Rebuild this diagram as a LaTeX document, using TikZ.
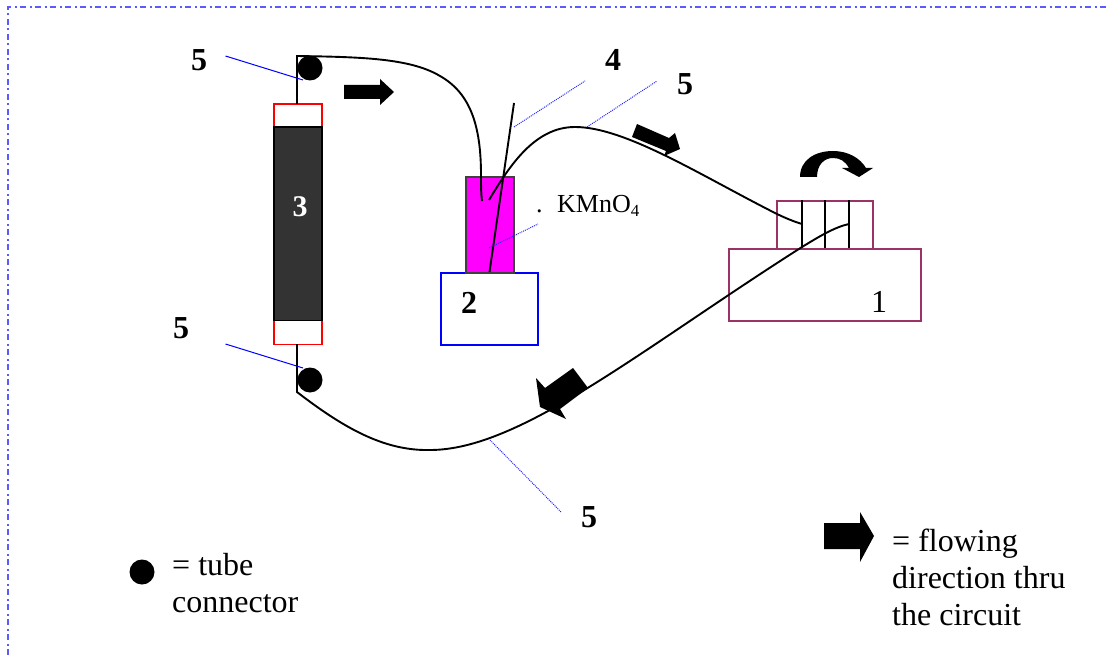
\documentclass[tikz,border=0pt]{standalone}
\usepackage{fontspec}
\setmainfont{Liberation Serif}
\definecolor{pumpc}{HTML}{993366}
\definecolor{framec}{HTML}{5A5AFF}
\definecolor{darkc}{HTML}{333333}
\definecolor{vesselc}{HTML}{FF00FF}
\tikzset{
  lbl/.style={inner sep=0pt,anchor=base west,font=\fontsize{32}{32}\selectfont},
  blbl/.style={lbl,font=\fontsize{32}{32}\selectfont\bfseries},
  box/.style={draw,inner sep=0pt,line width=1.8pt,anchor=north west},
  tube/.style={line width=1.9pt,black,line join=miter},
  solidlead/.style={blue,line width=1pt},
  dotlead/.style={blue!85!white,line width=1pt,dash pattern=on 1pt off 1pt},
  conn/.style={circle,fill=black,inner sep=0pt,minimum size=25pt},
  flow/.style={fill=black,draw=none}
}
\begin{document}
\begin{tikzpicture}[x=1pt,y=-1pt]
\useasboundingbox (0,0) rectangle (1107,655);
% outer frame
\coordinate (f1) at (8,655);
\coordinate (f2) at (8,7);
\coordinate (f3) at (1107,7);
\draw[framec,line width=1.1pt,dash pattern=on 6pt off 3.5pt on 2pt off 3.5pt] (f1) -- (f2) -- (f3);

% column 3
\node[box,draw=red,minimum width=48.5pt,minimum height=240pt] (col) at (272.8,103.5) {};
\node[box,draw=black,fill=darkc,minimum width=48.5pt,minimum height=193pt] (pack) at (272.8,126.5) {};
\node[blbl,font=\fontsize{30}{30}\selectfont\bfseries,text=white] (n3) at (292.5,216) {3};

% vessel 2
\node[box,draw=blue,fill=white,minimum width=97pt,minimum height=72pt] (stand) at (440.3,271.7) {};
\node[box,draw=black!75,fill=vesselc,minimum width=48.5pt,minimum height=95.5pt] (vessel) at (464.8,176.2) {};
\node[blbl] (n2) at (461,313) {2};

% pump 1
\node[box,draw=pumpc,minimum width=192pt,minimum height=72pt] (pump) at (728.3,247.7) {};
\node[box,draw=pumpc,minimum width=96pt,minimum height=48pt] (head) at (776.3,199.7) {};
\coordinate (v1t) at (802,200); \coordinate (v1b) at (802,248);
\coordinate (v2t) at (825,200); \coordinate (v2b) at (825,248);
\coordinate (v3t) at (849,200); \coordinate (v3b) at (849,248);
\draw[tube] (v1t) -- (v1b);
\draw[tube] (v2t) -- (v2b);
\draw[tube] (v3t) -- (v3b);
\node[lbl] (n1) at (871,312) {1};

% connectors (dots)
\node[conn] (ctop) at (310,68) {};
\node[conn] (cbot) at (310,380) {};

% tubes
\coordinate (coltop) at (297,104);
\coordinate (colbot) at (297,344);
\coordinate (bendtop) at (297,56);
\coordinate (bendbot) at (297,392);
\coordinate (inlet) at (482,201);
\coordinate (ventb) at (489.5,272);
\coordinate (ventt) at (514,103);
\coordinate (outlet) at (489,200);
\coordinate (pumpin) at (802,224);
\coordinate (pumpout) at (849,224);
\draw[tube] (coltop) -- (bendtop) .. controls (360,57) and (410,58) .. (440,76) .. controls (470,93) and (481,125) .. (481,175) .. controls (481,185) and (481,193) .. (inlet);
\draw[tube] (ventb) -- (ventt);
\draw[tube] (outlet) .. controls (510,165) and (535,127) .. (575,127) .. controls (625,127) and (700,175) .. (775,213) .. controls (785,218) and (795,222) .. (pumpin);
\draw[tube] (colbot) -- (bendbot) .. controls (345,429) and (385,451) .. (430,450) .. controls (520,450) and (640,350) .. (802,247) .. controls (820,236) and (835,227) .. (pumpout);

% leader lines
\coordinate (l1a) at (225.5,56);  \coordinate (l1b) at (303,80);
\coordinate (l2a) at (225.5,344); \coordinate (l2b) at (303,368);
\draw[solidlead] (l1a) -- (l1b);
\draw[solidlead] (l2a) -- (l2b);
\coordinate (l3a) at (514,127);   \coordinate (l3b) at (585,81);
\coordinate (l4a) at (587,127);   \coordinate (l4b) at (657,81);
\coordinate (l5a) at (489,248);   \coordinate (l5b) at (538,224);
\coordinate (l6a) at (490,440);   \coordinate (l6b) at (561,512);
\draw[dotlead] (l3a) -- (l3b);
\draw[dotlead] (l4a) -- (l4b);
\draw[dotlead] (l5a) -- (l5b);
\draw[dotlead] (l6a) -- (l6b);

% flow arrows
\fill[flow] (344,85) -- (380,85) -- (380,79) -- (394,92) -- (380,105) -- (380,99) -- (344,99) -- cycle;
\fill[flow] (637,124) -- (669,138) -- (675,133) -- (680,149) -- (664,156) -- (666,151) -- (632,137) -- cycle;
\fill[flow] (573,368) -- (588,388) -- (560,409) -- (566,419) -- (540,407) -- (536,378) -- (545,388) -- cycle;
\fill[flow] (824,523) -- (860,523) -- (860,512) -- (874,536) -- (860,562) -- (860,549) -- (824,549) -- cycle;
% rotation arrow
\fill[flow] (800,177) .. controls (800,160) and (815,151) .. (833,151) .. controls (848,151) and (860,158) .. (866,168) -- (873,168) -- (859,177) -- (842,168) -- (849,168) .. controls (845,161) and (840,158) .. (833,158) .. controls (824,158) and (817,165) .. (817,177) -- cycle;

% labels
\node[blbl] (n5a) at (191,71) {5};
\node[blbl] (n5b) at (173,338) {5};
\node[blbl] (n4) at (605,71) {4};
\node[blbl] (n5c) at (677,95) {5};
\node[blbl] (n5d) at (581,527) {5};
\node[lbl,font=\fontsize{26}{26}\selectfont] (dotmark) at (536,212) {.};
\node[lbl,font=\fontsize{26}{26}\selectfont] (kmno) at (557,212) {KMnO{\fontsize{17}{17}\selectfont\raisebox{-4.5pt}{4}}};

% legend
\node[conn] (legdot) at (142,572) {};
\node[lbl] (t1) at (172,575) {= tube};
\node[lbl] (t2) at (172,612) {connector};
\node[lbl] (t3) at (892,551) {= flowing};
\node[lbl] (t4) at (892,588) {direction thru};
\node[lbl] (t5) at (892,625) {the circuit};
\end{tikzpicture}
\end{document}
